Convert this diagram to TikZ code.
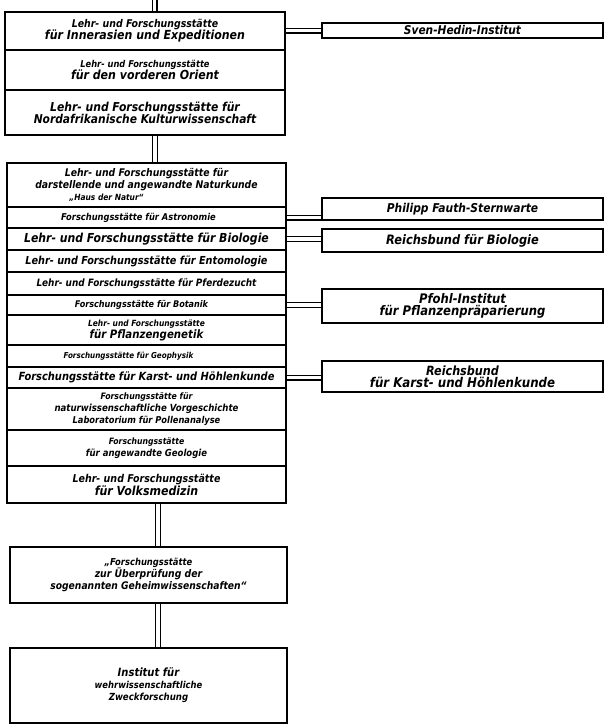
\documentclass[tikz,border=0pt]{standalone}
\usepackage{fontspec}
\setmainfont{DejaVu Sans}[FakeStretch=0.88]
\usetikzlibrary{backgrounds}
\newcommand\hsz[2]{\fontsize{\fpeval{round(#1*1.136,2)}}{#2}\selectfont}
\begin{document}
\begin{tikzpicture}[x=1pt,y=-1pt,
  box/.style={draw, line width=1.3pt, align=center, inner sep=0pt, outer sep=0pt,
    font=\bfseries\itshape},
  mainrow/.style={box, anchor=north west, minimum width=279pt},
  side/.style={box, anchor=north west, minimum width=281pt},
  pipe/.style={draw=black, double=white, double distance=3.8pt, line width=1.1pt}]
\useasboundingbox (0,0) rectangle (606,726);

% group 1
\node[mainrow, minimum width=280pt, minimum height=38pt] (g1a) at (5,12)
  {\hsz{9.4}{15}Lehr- und Forschungsstätte\\\hsz{11}{15}für Innerasien und Expeditionen};
\node[mainrow, minimum width=280pt, minimum height=40pt] (g1b) at (5,50)
  {\hsz{8.3}{15}Lehr- und Forschungsstätte\\\hsz{11}{15}für den vorderen Orient};
\node[mainrow, minimum width=280pt, minimum height=45pt] (g1c) at (5,90)
  {\hsz{10.8}{15}Lehr- und Forschungsstätte für\\\hsz{10.7}{15}Nordafrikanische Kulturwissenschaft};

% group 2
\node[mainrow, minimum height=44pt] (g2a) at (7,163)
  {\hsz{9.3}{13.5}Lehr- und Forschungsstätte für\\\hsz{9.3}{13.5}darstellende und angewandte Naturkunde\\\hsz{7.5}{13.5}„Haus der Natur“\hspace*{80pt}};
\node[mainrow, minimum height=21pt] (g2b) at (7,207)
  {\hsz{8.3}{10}Forschungsstätte für Astronomie\hspace*{16pt}};
\node[mainrow, minimum height=22pt] (g2c) at (7,228)
  {\hsz{10.9}{12}Lehr- und Forschungsstätte für Biologie};
\node[mainrow, minimum height=22pt] (g2d) at (7,250)
  {\hsz{9.7}{12}Lehr- und Forschungsstätte für Entomologie};
\node[mainrow, minimum height=23pt] (g2e) at (7,272)
  {\hsz{8.9}{12}Lehr- und Forschungsstätte für Pferdezucht};
\node[mainrow, minimum height=20pt] (g2f) at (7,295)
  {\hsz{8.1}{10}Forschungsstätte für Botanik\hspace*{10pt}};
\node[mainrow, minimum height=30pt] (g2g) at (7,315)
  {\hsz{7.5}{11.5}Lehr- und Forschungsstätte\\\hsz{10.2}{11.5}für Pflanzengenetik};
\node[mainrow, minimum height=22pt] (g2h) at (7,345)
  {\hsz{7.2}{10}Forschungsstätte für Geophysik\hspace*{36pt}};
\node[mainrow, minimum height=21pt] (g2i) at (7,367)
  {\hsz{9.9}{11}Forschungsstätte für Karst- und Höhlenkunde};
\node[mainrow, minimum height=42pt] (g2j) at (7,388)
  {\hsz{7.8}{12}Forschungsstätte für\\\hsz{8.6}{12}naturwissenschaftliche Vorgeschichte\\\hsz{8.3}{12}Laboratorium für Pollenanalyse};
\node[mainrow, minimum height=36pt] (g2k) at (7,430)
  {\hsz{7.7}{13}Forschungsstätte\\\hsz{8.5}{13}für angewandte Geologie};
\node[mainrow, minimum height=37pt] (g2l) at (7,466)
  {\hsz{9.5}{13}Lehr- und Forschungsstätte\\\hsz{11}{13}für Volksmedizin};

% group 3 and 4
\node[mainrow, minimum width=277pt, minimum height=56pt] (g3) at (10,547)
  {\hsz{8.4}{15.5}„Forschungsstätte\\\hsz{9.3}{15.5}zur Überprüfung der\\\hsz{9.2}{15.5}sogenannten Geheimwissenschaften“};
\node[mainrow, minimum width=277pt, minimum height=75pt] (g4) at (10,648)
  {\hsz{10}{15}Institut für\\\hsz{8.4}{15}wehrwissenschaftliche\\\hsz{8.6}{15}Zweckforschung};

% side boxes
\node[side, minimum height=15pt] (sven) at (322,23)
  {\hsz{10.6}{11}Sven-Hedin-Institut};
\node[side, minimum height=22pt] (fauth) at (322,198)
  {\hsz{10.7}{12}Philipp Fauth-Sternwarte};
\node[side, minimum height=23pt] (rbio) at (322,229)
  {\hsz{11.4}{12}Reichsbund für Biologie};
\node[side, minimum height=34pt] (pfohl) at (322,289)
  {\hsz{11.6}{16.5}Pfohl-Institut\\\hsz{11.6}{16.5}für Pflanzenpräparierung};
\node[side, minimum height=31pt] (rkarst) at (322,361)
  {\hsz{11.2}{16}Reichsbund\\\hsz{11.8}{16}für Karst- und Höhlenkunde};

\coordinate (topend) at (154.5,0);
\coordinate (px1) at (155,0);
\coordinate (px2) at (158,0);

\begin{pgfonlayer}{background}
\draw[pipe] (topend) -- (topend |- g1a.north);
\draw[pipe] (g1a.north east |- sven.west) -- (sven.west);
\draw[pipe] (px1 |- g1c.south) -- (px1 |- g2a.north);
\draw[pipe] (g2b.east) -- (g2b.east -| fauth.west);
\draw[pipe] (g2c.east) -- (g2c.east -| rbio.west);
\draw[pipe] (g2f.east) -- (g2f.east -| pfohl.west);
\draw[pipe] (g2i.east) -- (g2i.east -| rkarst.west);
\draw[pipe] (px2 |- g2l.south) -- (px2 |- g3.north);
\draw[pipe] (px2 |- g3.south) -- (px2 |- g4.north);
\end{pgfonlayer}
\end{tikzpicture}
\end{document}
